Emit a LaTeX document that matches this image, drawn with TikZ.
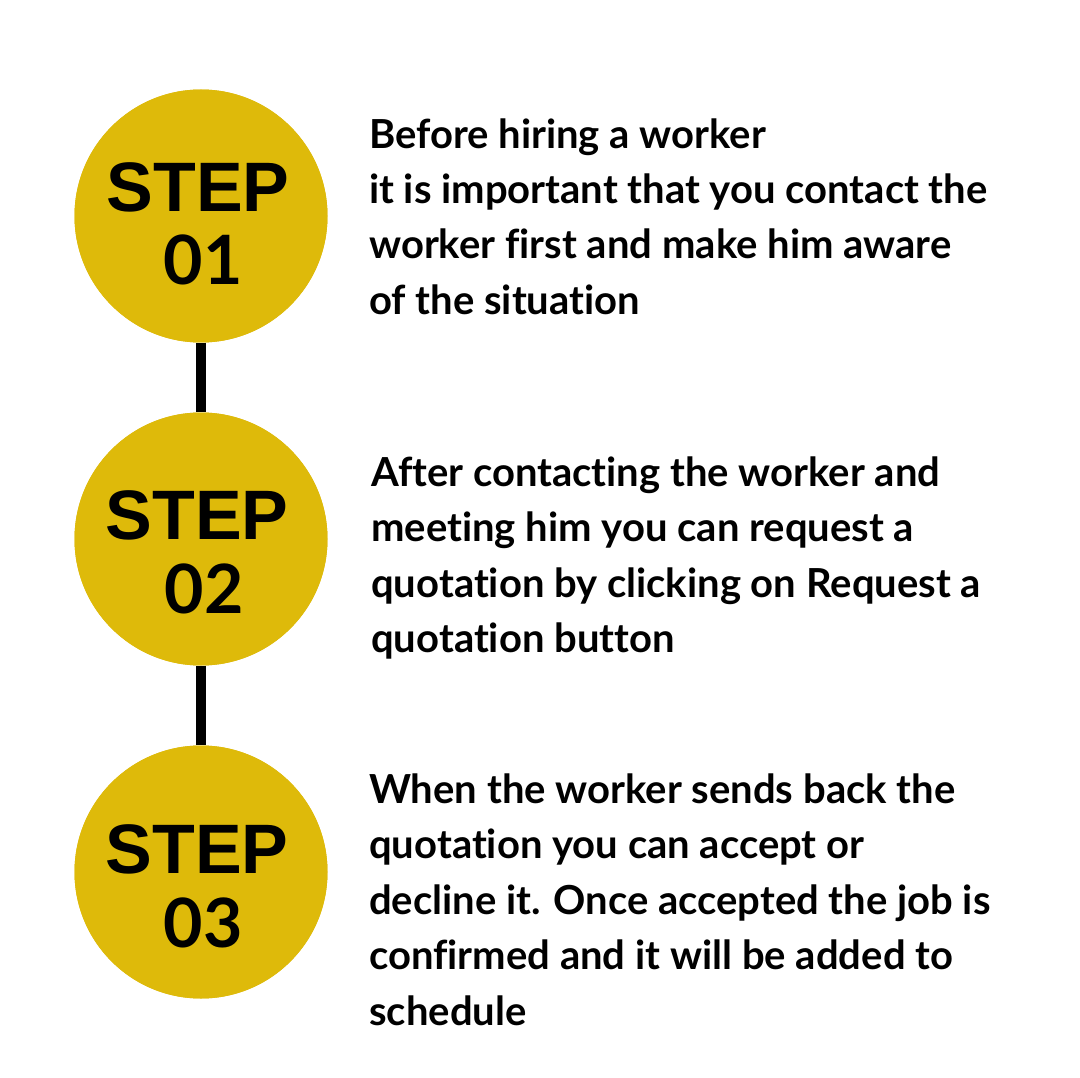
\documentclass[tikz,border=0pt]{standalone}
\usepackage{fontspec}
\newfontfamily\latob{Lato}[BoldFont=* Bold, Ligatures={NoCommon}]
\newfontfamily\libsans{Liberation Sans}
\definecolor{gold}{RGB}{222,186,10}
\tikzset{
  stepcircle/.style={circle, fill=gold, minimum size=253pt, inner sep=0pt},
  steplabel/.style={anchor=base, inner sep=0pt, font=\libsans\bfseries\fontsize{70}{70}\selectfont},
  stepnum/.style={anchor=base, inner sep=0pt, font=\latob\bfseries\fontsize{68}{68}\selectfont},
  bodytext/.style={anchor=base west, inner sep=0pt, align=left, font=\latob\bfseries\fontsize{40}{55.5}\selectfont},
  link/.style={line width=10pt, black}
}
\begin{document}
\begin{tikzpicture}[x=1pt,y=-1pt]
\useasboundingbox (0,0) rectangle (1080,1078);
\fill[white] (0,0) rectangle (1080,1078);
\node[stepcircle] (c1) at (201,216) {};
\node[stepcircle] (c2) at (201,539) {};
\node[stepcircle] (c3) at (201,872) {};
\draw[link] (c1.south) -- (c2.north);
\draw[link] (c2.south) -- (c3.north);
\node[stepcircle] at (c1) {};
\node[stepcircle] at (c2) {};
\node[stepcircle] at (c3) {};
\node[steplabel] (s1) at (198,212) {STEP};
\node[stepnum] (n1) at (203,285) {01};
\node[steplabel] (s2) at (197,539) {STEP};
\node[stepnum] (n2) at (204,613) {02};
\node[steplabel] (s3) at (197,873) {STEP};
\node[stepnum] (n3) at (203,947) {03};
\node[bodytext] (b1) at (369,314.5) {Before hiring a worker\\it is important that you contact the\\worker first and make him aware\\of the situation};
\node[bodytext] (b2) at (371,652.5) {After contacting the worker and\\meeting him you can request a\\quotation by clicking on Request a\\quotation button};
\node[bodytext] (b3) at (369,1025) {When the worker sends back the\\quotation you can accept or\\decline it. Once accepted the job is\\confirmed and it will be added to\\schedule};
\end{tikzpicture}
\end{document}
